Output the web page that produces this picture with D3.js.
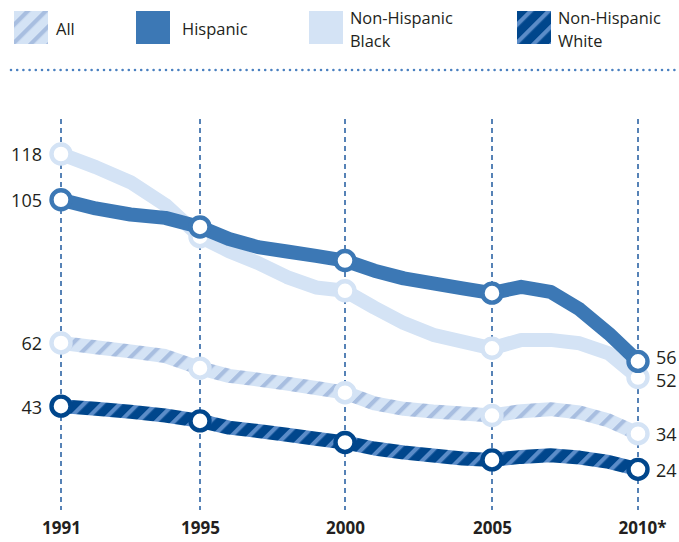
<!DOCTYPE html>
<html>
<head>
<meta charset="utf-8">
<script src="https://cdn.jsdelivr.net/npm/d3@7"></script>
<style>
  html, body { margin: 0; padding: 0; background: #ffffff; }
  svg { display: block; }
  text { font-family: "Open Sans", "Noto Sans", sans-serif; fill: #231f20; }
</style>
</head>
<body>
<svg id="chart" width="679" height="542"></svg>
<script>
// ---------- data ----------
const years = [1991,1992,1993,1994,1995,1996,1997,1998,1999,2000,2001,2002,2003,2004,2005,2006,2007,2008,2009,2010];
const markerYears = [1991, 1995, 2000, 2005, 2010];
const tickLabels = ["1991", "1995", "2000", "2005", "2010*"];

const blackValues    = [118, 114.1, 109.6, 102.9, 93.4, 89.1, 85.6, 81.4, 78.3, 77.3, 72.3, 67.7, 64.2, 62.2, 60.2, 62.7, 62.7, 61.7, 58.7, 51.5];
const hispanicValues = [104.4, 101.8, 100.0, 99.0, 96.3, 92.7, 90.3, 89.0, 87.7, 86.3, 83.3, 81.0, 79.5, 78.0, 76.6, 78.5, 77.0, 71.8, 64.6, 56.3];
const allValues      = [61.8, 60.5, 59.3, 57.9, 54.3, 52.0, 50.9, 49.7, 48.4, 47.0, 43.8, 42.2, 41.4, 40.8, 40.2, 41.5, 42.1, 41.1, 38.7, 34.8];
const whiteValues    = [43.0, 42.2, 41.3, 40.2, 38.6, 36.6, 35.6, 34.5, 33.3, 32.2, 30.4, 29.2, 28.3, 27.4, 27.0, 27.9, 28.4, 27.7, 26.4, 24.2];

const startLabels = ["118", "105", "62", "43"];   // Black, Hispanic, All, White (1991)
const endLabels   = ["52", "56", "34", "24"];     // Black, Hispanic, All, White (2010)

const legendNames = ["All", "Hispanic", ["Non-Hispanic", "Black"], ["Non-Hispanic", "White"]];

// ---------- setup ----------
const svg = d3.select("#chart");
const LIGHT = "#d4e3f5", MID = "#3c78b5", NAVY = "#00468c";
const ALL_STRIPE = "#a8bee0", WHITE_STRIPE = "#5b8cc8";

const x = d3.scaleLinear().domain(markerYears).range([61, 200, 345, 492, 638]);
const y = d3.scaleLinear().domain([24, 118]).range([470, 154]);

// patterns
const defs = svg.append("defs");
function hatch(id, base, stripe) {
  const p = defs.append("pattern").attr("id", id)
    .attr("patternUnits", "userSpaceOnUse")
    .attr("width", 12.7).attr("height", 12.7)
    .attr("patternTransform", "rotate(45)");
  p.append("rect").attr("width", 12.7).attr("height", 12.7).attr("fill", base);
  p.append("rect").attr("x", 0).attr("width", 4.2).attr("height", 12.7).attr("fill", stripe);
}
hatch("hatchAll", LIGHT, ALL_STRIPE);
hatch("hatchWhite", NAVY, WHITE_STRIPE);

// ---------- legend ----------
const legendItems = [
  { name: legendNames[0], fill: "url(#hatchAll)", sx: 14, tx: 56 },
  { name: legendNames[1], fill: MID, sx: 136, tx: 182 },
  { name: legendNames[2], fill: LIGHT, sx: 309, tx: 350 },
  { name: legendNames[3], fill: "url(#hatchWhite)", sx: 517, tx: 558 }
];
const lg = svg.append("g");
legendItems.forEach(d => {
  lg.append("rect").attr("x", d.sx).attr("y", 11).attr("width", 34).attr("height", 33).attr("fill", d.fill);
  if (Array.isArray(d.name)) {
    lg.append("text").attr("x", d.tx).attr("y", 24.3).style("font-size", "16.4px").text(d.name[0]);
    lg.append("text").attr("x", d.tx).attr("y", 46.8).style("font-size", "16.4px").text(d.name[1]);
  } else {
    lg.append("text").attr("x", d.tx).attr("y", 34.5).style("font-size", "16.5px").text(d.name);
  }
});

// dotted separator
svg.append("line").attr("x1", 11).attr("x2", 677).attr("y1", 70).attr("y2", 70)
  .attr("stroke", "#4a80c0").attr("stroke-width", 2.6)
  .attr("stroke-linecap", "round").attr("stroke-dasharray", "0 6.2");

// ---------- grid ----------
svg.append("g").selectAll("line").data(markerYears).join("line")
  .attr("x1", d => x(d)).attr("x2", d => x(d))
  .attr("y1", 119).attr("y2", 510)
  .attr("stroke", "#1f5a9e").attr("stroke-width", 1.5)
  .attr("stroke-dasharray", "5 4");

// x-axis labels
const xAxis = d3.axisBottom(x).tickValues(markerYears).tickSize(0)
  .tickFormat((d, i) => tickLabels[i]);
const xg = svg.append("g").attr("transform", "translate(0,519)").call(xAxis);
xg.select(".domain").remove();
xg.selectAll("text").attr("dy", "0.71em")
  .style("font-family", "'Open Sans', sans-serif").style("font-size", "17px")
  .style("font-weight", "700").attr("fill", "#231f20");
xg.selectAll(".tick").filter((d, i) => i === 4).select("text").attr("dx", "4");

// ---------- series ----------
const series = [
  { values: allValues, stroke: "url(#hatchAll)", ring: LIGHT, start: startLabels[2], end: endLabels[2], endShift: 1 },
  { values: whiteValues, stroke: "url(#hatchWhite)", ring: NAVY, start: startLabels[3], end: endLabels[3], endShift: 1 },
  { values: blackValues, stroke: LIGHT, ring: LIGHT, start: startLabels[0], end: endLabels[0], endShift: 3 },
  { values: hispanicValues, stroke: MID, ring: MID, start: startLabels[1], end: endLabels[1], endShift: -3.5 }
];

const line = d3.line().x((d, i) => x(years[i])).y(d => y(d));

series.forEach(s => {
  const g = svg.append("g");
  g.append("path").datum(s.values).attr("d", line)
    .attr("fill", "none").attr("stroke", s.stroke).attr("stroke-width", 14)
    .attr("stroke-linejoin", "round").attr("stroke-linecap", "round");
  const pts = markerYears.map(yr => ({ yr, v: s.values[years.indexOf(yr)] }));
  g.selectAll("circle").data(pts).join("circle")
    .attr("cx", d => x(d.yr)).attr("cy", d => y(d.v)).attr("r", 9.5)
    .attr("fill", "#ffffff").attr("stroke", s.ring).attr("stroke-width", 4.4);
  g.append("text").attr("x", x(1991) - 19).attr("y", y(s.values[0]) + 1)
    .attr("dy", "0.36em").attr("text-anchor", "end").style("font-size", "18px").text(s.start);
  g.append("text").attr("x", x(2010) + 18).attr("y", y(s.values[s.values.length - 1]) + s.endShift)
    .attr("dy", "0.36em").attr("text-anchor", "start").style("font-size", "18px").text(s.end);
});
</script>
</body>
</html>
